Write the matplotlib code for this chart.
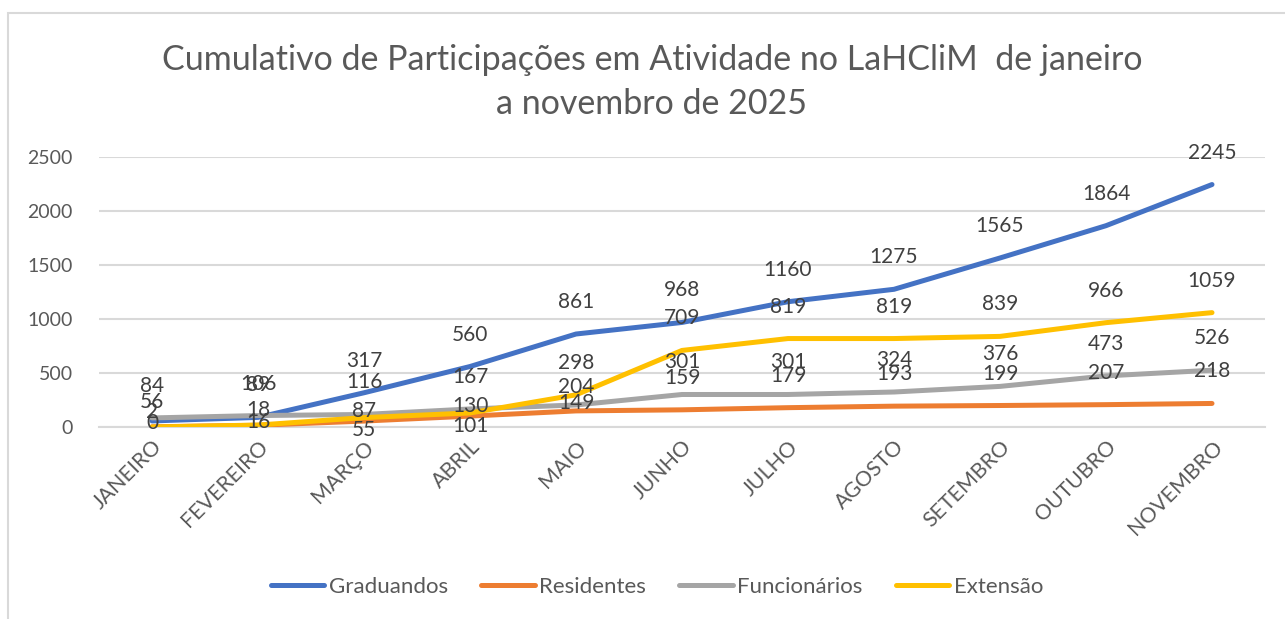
import matplotlib
matplotlib.use("Agg")
import matplotlib.pyplot as plt
from matplotlib.lines import Line2D
from matplotlib.patches import Rectangle

months = ["JANEIRO", "FEVEREIRO", "MARÇO", "ABRIL", "MAIO", "JUNHO",
          "JULHO", "AGOSTO", "SETEMBRO", "OUTUBRO", "NOVEMBRO"]
graduandos = [56, 89, 317, 560, 861, 968, 1160, 1275, 1565, 1864, 2245]
residentes = [2, 16, 55, 101, 149, 159, 179, 193, 199, 207, 218]
funcionarios = [84, 106, 116, 167, 204, 301, 301, 324, 376, 473, 526]
extensao = [0, 18, 87, 130, 298, 709, 819, 819, 839, 966, 1059]
series_names = ["Graduandos", "Residentes", "Funcionários", "Extensão"]
yticks = [0, 500, 1000, 1500, 2000, 2500]
title = "Cumulativo de Participações em Atividade no LaHCliM  de janeiro\na novembro de 2025"

colors = ["#4472C4", "#ED7D31", "#A5A5A5", "#FFC000"]
series = [graduandos, residentes, funcionarios, extensao]

# label vertical offsets (pixels above point); default 32
default_off = 32
label_off = {
    (0, 0): 19,
    (1, 0): 15, (1, 1): 3, (1, 2): -9, (1, 3): -10, (1, 4): 8,
    (2, 4): 18,
    (3, 0): 4, (3, 1): 15, (3, 2): 7, (3, 3): 7,
}

plt.rcParams['font.family'] = ['Lato', 'DejaVu Sans']
W, H = 1285, 619
fig = plt.figure(figsize=(W / 100, H / 100), dpi=100)

# chart border (left & top visible)
fig.patches.append(Rectangle((8 / W, -0.1), 1.2, (H - 13) / H + 0.1, transform=fig.transFigure,
                             fill=False, edgecolor="#D9D9D9", linewidth=1.5))

ax = fig.add_axes([99 / W, 1 - 427 / H, (1265 - 99) / W, (427 - 157) / H])
x = list(range(len(months)))
for i, (vals, c, name) in enumerate(zip(series, colors, series_names)):
    ax.plot(x, vals, color=c, linewidth=3.6, solid_capstyle='round', label=name, zorder=3)

for i, vals in enumerate(series):
    for j, v in enumerate(vals):
        off = label_off.get((i, j), default_off)
        ax.annotate(str(v), (j, v), xytext=(0, off), textcoords='offset pixels',
                    ha='center', va='center', fontsize=15, color="#404040", zorder=5)

ax.set_xlim(-0.5, len(months) - 0.5)
ax.set_ylim(0, 2500)
ax.set_yticks(yticks)
ax.set_yticklabels([str(t) for t in yticks], fontsize=14, color="#595959")
ax.yaxis.grid(True, color="#D9D9D9", linewidth=1.5)
ax.set_axisbelow(True)
ax.set_xticks(x)
ax.set_xticklabels(months, rotation=45, ha='right', va='top', rotation_mode='anchor',
                   fontsize=15.3, color="#595959")
ax.tick_params(axis='both', length=0)
ax.tick_params(axis='y', pad=19)
ax.tick_params(axis='x', pad=7)
for s in ['left', 'right', 'top']:
    ax.spines[s].set_visible(False)
ax.spines['bottom'].set_color("#D9D9D9")
ax.spines['bottom'].set_linewidth(1.5)

fig.text(652 / W, 1 - 82 / H, title, ha='center', va='center', fontsize=24.5,
         color="#595959", linespacing=1.45)

handles = [Line2D([0], [0], color=c, linewidth=3.6, solid_capstyle='round') for c in colors]
fig.legend(handles, series_names, loc='center', bbox_to_anchor=(657 / W, 1 - 587 / H),
           ncol=4, frameon=False, fontsize=16, handlelength=2.4, handletextpad=0.2,
           columnspacing=1.5, labelcolor="#595959")

fig.savefig("out.png", dpi=100)
